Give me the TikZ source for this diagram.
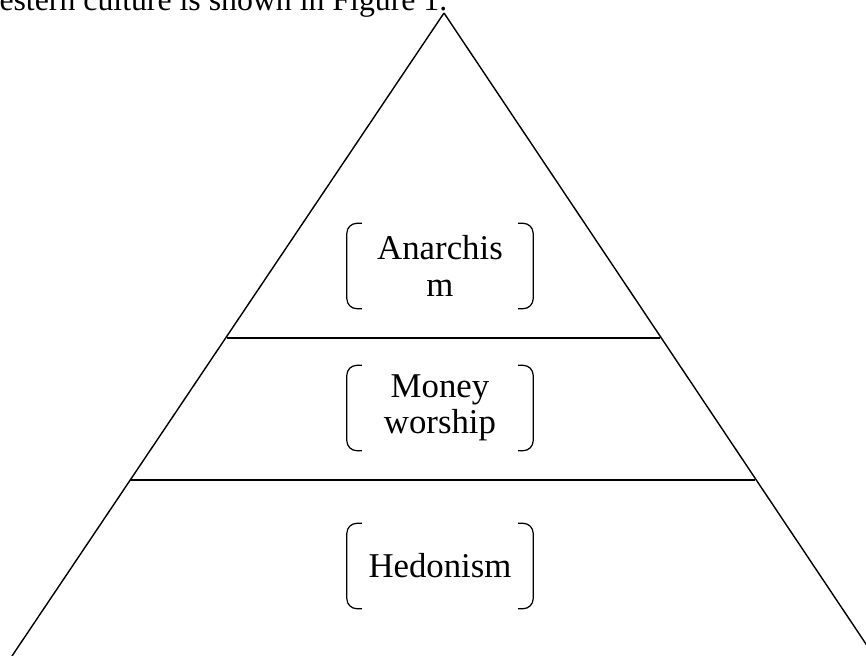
\documentclass[tikz,border=0pt]{standalone}
\usepackage{fontspec}
\setmainfont{Liberation Serif}
\begin{document}
\begin{tikzpicture}[x=0.02cm,y=-0.02cm,line width=0.8pt,
lvl/.style={minimum width=3.7cm, minimum height=1.68cm, inner sep=0, align=center, font=\fontsize{19.8}{20.6}\selectfont},
brk/.style={rounded corners=0.2cm, line width=0.7pt}]
\useasboundingbox (0,0) rectangle (866,656);
\clip (0,0) rectangle (866,656);
\coordinate (top) at (444,13);
\coordinate (bl) at (12,656);
\coordinate (br) at (874,656);
\coordinate (l1) at (227,338);
\coordinate (r1) at (660,338);
\coordinate (l2) at (131,480);
\coordinate (r2) at (755,480);
\draw[](top) -- (bl);
\draw[](top) -- (br);
\draw[](l1) -- (r1);
\draw[](l2) -- (r2);
\node[anchor=base east, inner sep=0, font=\fontsize{18.1}{20}\selectfont] (cap) at (448,10){estern culture is shown in Figure 1.};
\node[lvl] (lvl1) at (440,266){Anarchis\\m};
\node[lvl] (lvl2) at (440,408){Money\\worship};
\node[lvl] (lvl3) at (440,566){Hedonism};
\draw[brk]([xshift=0.3cm]lvl1.north west) -- (lvl1.north west) -- (lvl1.south west) -- ([xshift=0.3cm]lvl1.south west);
\draw[brk]([xshift=-0.3cm]lvl1.north east) -- (lvl1.north east) -- (lvl1.south east) -- ([xshift=-0.3cm]lvl1.south east);
\draw[brk]([xshift=0.3cm]lvl2.north west) -- (lvl2.north west) -- (lvl2.south west) -- ([xshift=0.3cm]lvl2.south west);
\draw[brk]([xshift=-0.3cm]lvl2.north east) -- (lvl2.north east) -- (lvl2.south east) -- ([xshift=-0.3cm]lvl2.south east);
\draw[brk]([xshift=0.3cm]lvl3.north west) -- (lvl3.north west) -- (lvl3.south west) -- ([xshift=0.3cm]lvl3.south west);
\draw[brk]([xshift=-0.3cm]lvl3.north east) -- (lvl3.north east) -- (lvl3.south east) -- ([xshift=-0.3cm]lvl3.south east);
\end{tikzpicture}
\end{document}
